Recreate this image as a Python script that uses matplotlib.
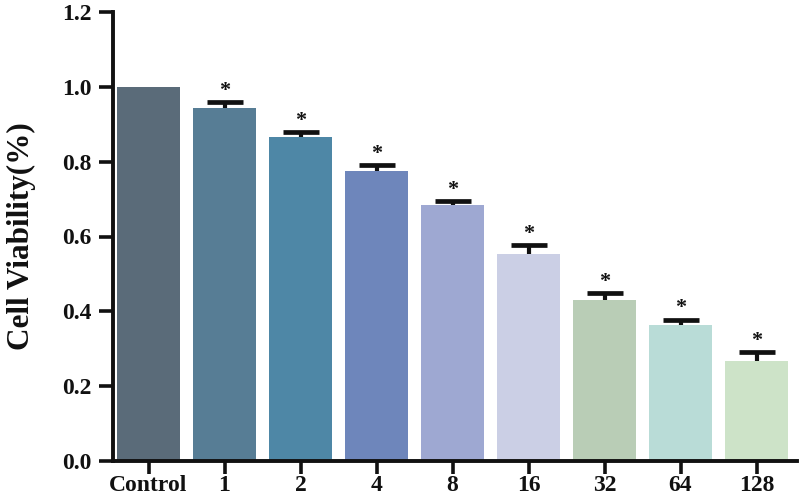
import matplotlib
matplotlib.use("Agg")
import matplotlib.pyplot as plt

categories = ["Control", "1", "2", "4", "8", "16", "32", "64", "128"]
viability = [1.0, 0.943, 0.866, 0.776, 0.685, 0.554, 0.430, 0.363, 0.266]
err_upper = [0.0, 0.016, 0.013, 0.014, 0.009, 0.023, 0.018, 0.014, 0.024]
significant = [False, True, True, True, True, True, True, True, True]
colors = ["#5a6b79", "#577d95", "#4e87a6", "#6e86bb", "#9ea8d2",
          "#cbcfe5", "#b9cdb6", "#b9dcd7", "#cde3c8"]

plt.rcParams['font.family'] = ['Liberation Serif', 'DejaVu Serif']
plt.rcParams['font.weight'] = 'bold'

fig = plt.figure(figsize=(8, 5), dpi=100)
ax = fig.add_axes([0.141, 0.078, 0.855, 0.898])

x = list(range(len(categories)))
ax.bar(x, viability, width=0.82, color=colors, zorder=2)
lower = [0.0] * len(err_upper)
eb = ax.errorbar(x[1:], viability[1:], yerr=[lower[1:], err_upper[1:]], fmt='none',
                 ecolor='#111111', elinewidth=3.0, capsize=13, capthick=3.4, zorder=3)
# hide the lower caps (only upper error bars are shown)
caplines = eb[1]
if len(caplines) == 2:
    caplines[0].set_visible(False)
for xi, v, e, s in zip(x, viability, err_upper, significant):
    if s:
        ax.text(xi, v + e + 0.004, "*", ha='center', va='bottom',
                fontsize=16, fontweight='bold', color='#111111')

ax.set_xlim(-0.47, 8.53)
ax.set_ylim(0, 1.2)
ax.set_yticks([0.0, 0.2, 0.4, 0.6, 0.8, 1.0, 1.2])
ax.set_yticklabels(["0.0", "0.2", "0.4", "0.6", "0.8", "1.0", "1.2"])
ax.set_xticks(x)
ax.set_xticklabels(categories)
for sp in ['top', 'right']:
    ax.spines[sp].set_visible(False)
for sp in ['left', 'bottom']:
    ax.spines[sp].set_linewidth(2.8)
    ax.spines[sp].set_color('#111111')
ax.tick_params(axis='both', width=2.6, length=10, color='#111111',
               labelsize=17, labelcolor='#111111')
ax.tick_params(axis='x', pad=1, length=9)
ax.tick_params(axis='y', pad=5)
for lab in ax.get_xticklabels() + ax.get_yticklabels():
    lab.set_fontweight('bold')
ax.set_ylabel("Cell Viability(%)", fontsize=22.5, fontweight='bold', color='#111111')
ax.yaxis.set_label_coords(-0.112, 0.5)

fig.savefig("out.png", dpi=100)
